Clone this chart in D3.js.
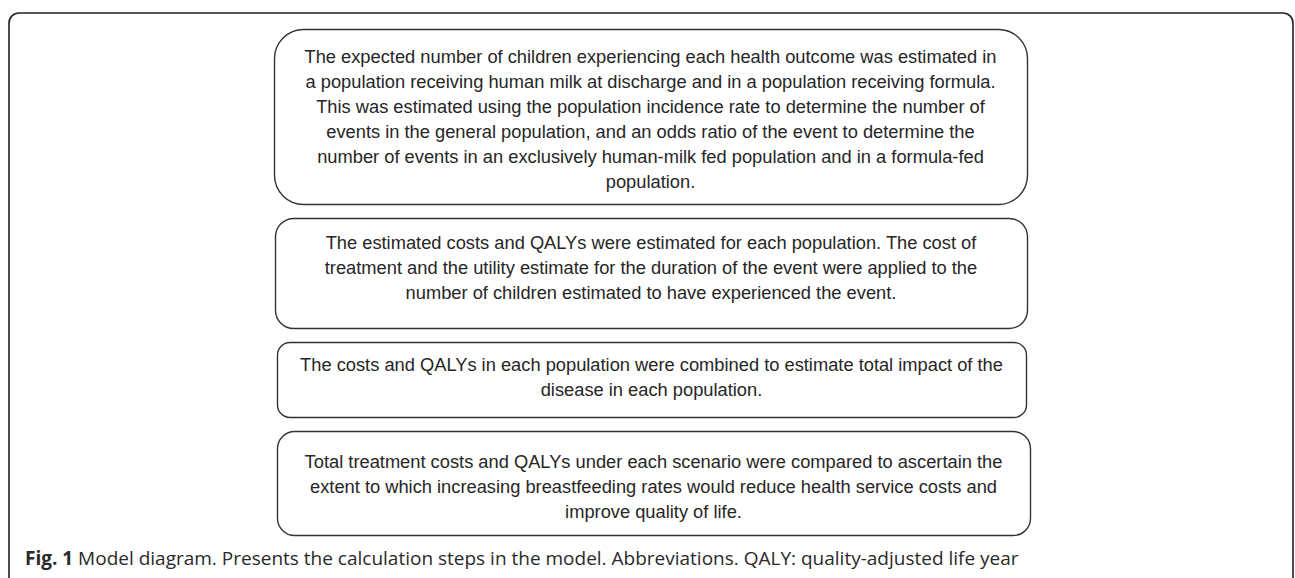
<!DOCTYPE html>
<html><head><meta charset="utf-8">
<script src="https://cdn.jsdelivr.net/npm/d3@7"></script>
<style>html,body{margin:0;padding:0;background:#fff;overflow:hidden}</style>
</head><body><svg id="c" width="1295" height="578"></svg>
<script>
// Diagram content
const steps = [
  ["The expected number of children experiencing each health outcome was estimated in",
   "a population receiving human milk at discharge and in a population receiving formula.",
   "This was estimated using the population incidence rate to determine the number of",
   "events in the general population, and an odds ratio of the event to determine the",
   "number of events in an exclusively human-milk fed population and in a formula-fed",
   "population."],
  ["The estimated costs and QALYs were estimated for each population. The cost of",
   "treatment and the utility estimate for the duration of the event were applied to the",
   "number of children estimated to have experienced the event."],
  ["The costs and QALYs in each population were combined to estimate total impact of the",
   "disease in each population."],
  ["Total treatment costs and QALYs under each scenario were compared to ascertain the",
   "extent to which increasing breastfeeding rates would reduce health service costs and",
   "improve quality of life."]
];
const captionBold = "Fig. 1";
const captionText = " Model diagram. Presents the calculation steps in the model. Abbreviations. QALY: quality-adjusted life year";

// layout
const boxes = [
  {x0:274, x1:1027, y0:29,  y1:204, pad:34},
  {x0:275, x1:1027, y0:218, y1:328, pad:31},
  {x0:277, x1:1026, y0:342, y1:417, pad:29},
  {x0:277, x1:1030, y0:431, y1:535, pad:37}
];
const lineH = 25;
const svg = d3.select("#c");

// outer frame (open at bottom)
const fx0=9, fx1=1293, fy0=13, fr=10;
const fp = d3.path();
fp.moveTo(fx0, 600);
fp.lineTo(fx0, fy0+fr);
fp.arcTo(fx0, fy0, fx0+fr, fy0, fr);
fp.lineTo(fx1-fr, fy0);
fp.arcTo(fx1, fy0, fx1, fy0+fr, fr);
fp.lineTo(fx1, 600);
svg.append("path").attr("d", fp.toString()).attr("fill","none").attr("stroke","#222").attr("stroke-width",1.6);

const g = svg.selectAll("g.step").data(steps).join("g").attr("class","step");
g.append("rect")
  .attr("x",(d,i)=>boxes[i].x0+0.5)
  .attr("y",(d,i)=>boxes[i].y0+0.5)
  .attr("width",(d,i)=>boxes[i].x1-boxes[i].x0)
  .attr("height",(d,i)=>boxes[i].y1-boxes[i].y0)
  .attr("rx",(d,i)=>(boxes[i].y1-boxes[i].y0)/6)
  .attr("fill","#fff").attr("stroke","#333").attr("stroke-width",1.4);
g.each(function(d,i){
  const b = boxes[i];
  d3.select(this).selectAll("text").data(d).join("text")
    .attr("x",(b.x0+b.x1)/2)
    .attr("y",(t,j)=>b.y0+b.pad+j*lineH)
    .attr("text-anchor","middle")
    .attr("font-family","'Liberation Sans', Arial, sans-serif")
    .attr("font-size",18.3)
    .attr("fill","#262626")
    .text(t=>t);
});

const cap = svg.append("text").attr("x",25).attr("y",565)
  .attr("font-family","'Open Sans', sans-serif").attr("font-size",19).attr("fill","#2a2a2a");
cap.append("tspan").attr("font-weight","bold").text(captionBold);
cap.append("tspan").text(captionText);
</script></body></html>
